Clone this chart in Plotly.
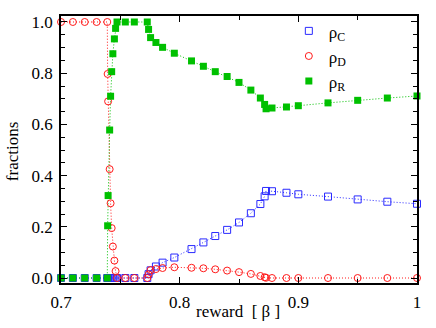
import plotly.graph_objects as go

reward = [0.70, 0.71, 0.72, 0.73, 0.739, 0.7393, 0.7397, 0.741, 0.7418, 0.7427, 0.7437,
          0.745, 0.746, 0.7472, 0.7542, 0.7618, 0.7727, 0.7738, 0.7755, 0.78, 0.7856,
          0.7955, 0.81, 0.82, 0.83, 0.84, 0.85, 0.86, 0.868, 0.8716, 0.8728, 0.8778,
          0.89, 0.90, 0.925, 0.95, 0.975, 1.0]
rho_C = [0, 0, 0, 0, 0, 0, 0, 0, 0, 0, 0, 0, 0, 0, 0, 0, 0,
         0.015, 0.03, 0.045, 0.06, 0.08,
         0.113, 0.139, 0.164, 0.188, 0.217, 0.253, 0.289, 0.319, 0.34, 0.339,
         0.333, 0.327, 0.318, 0.307, 0.298, 0.29]
rho_D = [1, 1, 1, 1, 1, 0.797, 0.69, 0.425, 0.292, 0.195, 0.123, 0.068, 0.027,
         0, 0, 0, 0,
         0.014, 0.031, 0.035, 0.039, 0.042,
         0.04, 0.038, 0.034, 0.029, 0.023, 0.016, 0.008, 0.003, 0.001, 0,
         0, 0, 0, 0, 0, 0]
rho_R = [0, 0, 0, 0, 0, 0.204, 0.322, 0.578, 0.71, 0.806, 0.876, 0.934, 0.975,
         1, 1, 1, 1,
         0.971, 0.939, 0.92, 0.901, 0.878,
         0.848, 0.827, 0.806, 0.787, 0.764, 0.734, 0.703, 0.678, 0.661, 0.664,
         0.668, 0.673, 0.684, 0.694, 0.703, 0.711]

x_tickvals = [0.7, 0.8, 0.9, 1.0]
x_ticktext = ["0.7", "0.8", "0.9", "1"]
y_tickvals = [0.0, 0.2, 0.4, 0.6, 0.8, 1.0]
y_ticktext = ["0.0", "0.2", "0.4", "0.6", "0.8", "1.0"]
x_title = "reward \u00a0[ β ]"
y_title = "fractions"

BLUE = "#2a2aff"
RED = "#ff1a1a"
GREEN = "#00c000"
FONT = "Liberation Serif"

series = [
    ("ρ<sub>C</sub>", rho_C, BLUE, dict(symbol="square-open", size=7, color=BLUE, line=dict(width=1, color=BLUE))),
    ("ρ<sub>D</sub>", rho_D, RED, dict(symbol="circle-open", size=7, color=RED, line=dict(width=1, color=RED))),
    ("ρ<sub>R</sub>", rho_R, GREEN, dict(symbol="square", size=7, color=GREEN, line=dict(width=0))),
]

fig = go.Figure()
for name, ys, col, mk in series:
    fig.add_trace(go.Scatter(x=reward, y=ys, mode="lines", showlegend=False,
                             line=dict(color=col, width=1, dash="1px,2px"),
                             cliponaxis=False, hoverinfo="skip"))
for name, ys, col, mk in series:
    fig.add_trace(go.Scatter(x=reward, y=ys, mode="markers", name=name,
                             marker=mk, cliponaxis=False))

axis_common = dict(showline=True, linecolor="black", linewidth=1.5, mirror="ticks",
                   ticks="inside", ticklen=6, tickwidth=1, tickcolor="black",
                   showgrid=False, zeroline=False, automargin=False,
                   tickfont=dict(family=FONT, size=17, color="black"))

fig.update_xaxes(range=[0.7, 1.0], tickvals=x_tickvals, ticktext=x_ticktext,
                 minor=dict(dtick=0.05, tick0=0.7, ticks="inside", ticklen=4, tickcolor="black", showgrid=False),
                 ticklabelstandoff=3, **axis_common)
fig.update_yaxes(range=[-0.0195, 1.0234], tickvals=y_tickvals, ticktext=y_ticktext,
                 minor=dict(dtick=0.05, tick0=0, ticks="inside", ticklen=4, tickcolor="black", showgrid=False),
                 ticklabelstandoff=3, **axis_common)

fig.add_annotation(text=x_title, xref="paper", yref="paper", x=0.496, y=-0.1075,
                   xanchor="center", yanchor="middle", showarrow=False,
                   font=dict(family=FONT, size=17, color="black"))
fig.add_annotation(text=y_title, xref="paper", yref="paper", x=-0.1376, y=0.49,
                   xanchor="center", yanchor="middle", showarrow=False, textangle=-90,
                   font=dict(family=FONT, size=17, color="black"))

fig.update_layout(
    width=436, height=328,
    margin=dict(l=61, r=19, t=16, b=45),
    paper_bgcolor="white", plot_bgcolor="white",
    font=dict(family=FONT, size=16, color="black"),
    legend=dict(x=0.64, y=1.01, xanchor="left", yanchor="top",
                bgcolor="rgba(0,0,0,0)", font=dict(family=FONT, size=17, color="black"),
                itemwidth=30, tracegroupgap=0),
    showlegend=True,
)

fig.write_html("out.html", config={"displayModeBar": False},
               post_script="document.body.style.margin='0';document.body.style.padding='0';")
